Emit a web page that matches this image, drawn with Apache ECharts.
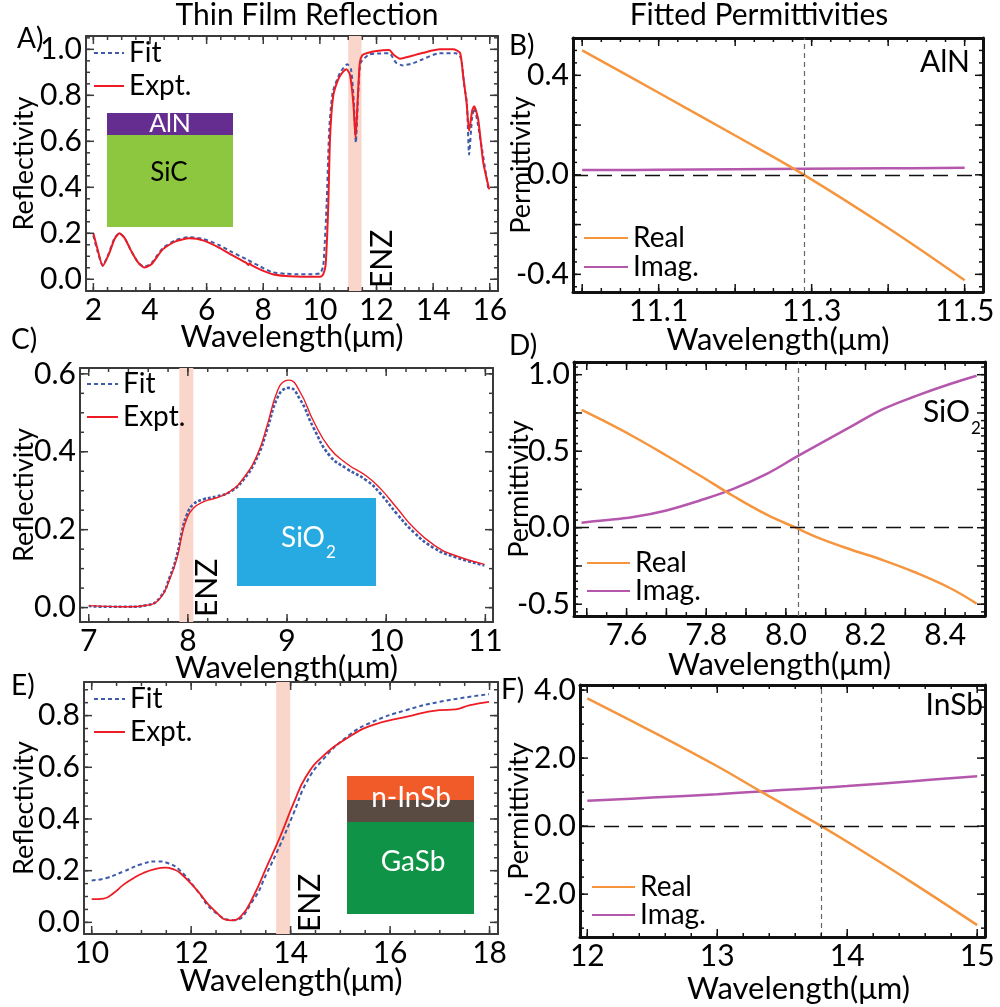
<!DOCTYPE html>
<html lang="en">
<head>
<meta charset="UTF-8">
<title>Thin Film Reflection - Fitted Permittivities</title>
<script src="https://cdn.jsdelivr.net/npm/echarts@6/dist/echarts.min.js"></script>
<style>
    html, body { margin: 0; padding: 0; background: #fff; }
    #chart { width: 1000px; height: 1007px; }
</style>
</head>
<body>
<div id="chart"></div>
<script>
// ---------- A) AlN on SiC reflectivity ----------
const aExptWl = [2.00, 2.15, 2.33, 2.55, 2.75, 2.92, 3.10, 3.35, 3.60, 3.80, 4.05, 4.45, 4.90, 5.39, 5.90, 6.45, 6.90, 7.39, 7.48, 7.52,
    7.60, 7.90, 8.33, 8.80, 9.15, 9.60, 9.94, 10.05, 10.12, 10.20, 10.26, 10.30, 10.36, 10.47, 10.65, 10.80, 10.94, 11.06, 11.18, 11.26,
    11.33, 11.41, 11.50, 11.65, 12.00, 12.45, 12.59, 12.83, 13.20, 13.65, 14.24, 14.71, 14.95, 15.06, 15.18, 15.27, 15.38, 15.45, 15.59, 15.77, 15.98];
const aExpt = [0.200, 0.130, 0.058, 0.110, 0.175, 0.200, 0.180, 0.120, 0.070, 0.051, 0.065, 0.130, 0.165, 0.178, 0.168, 0.137, 0.105, 0.072, 0.062, 0.070,
    0.060, 0.042, 0.022, 0.014, 0.012, 0.011, 0.011, 0.013, 0.022, 0.060, 0.200, 0.337, 0.620, 0.797, 0.870, 0.900, 0.913, 0.891, 0.768, 0.616,
    0.768, 0.942, 0.975, 0.983, 0.993, 0.997, 0.978, 0.959, 0.970, 0.985, 1.000, 1.000, 0.985, 0.884, 0.768, 0.645, 0.735, 0.753, 0.696, 0.507, 0.391];
const aFitWl = [2.00, 2.15, 2.33, 2.55, 2.75, 2.92, 3.10, 3.35, 3.60, 3.80, 4.05, 4.45, 4.90, 5.39, 5.90, 6.45, 6.90, 7.39, 7.90, 8.33,
    8.80, 9.15, 9.60, 10.00, 10.12, 10.24, 10.33, 10.45, 10.71, 10.97, 11.10, 11.20, 11.27, 11.35, 11.44, 11.75, 12.10, 12.45, 12.69, 12.92,
    13.30, 13.63, 14.22, 14.80, 14.98, 15.10, 15.19, 15.27, 15.37, 15.45, 15.63, 15.96];
const aFit = [0.190, 0.120, 0.060, 0.115, 0.180, 0.200, 0.180, 0.120, 0.070, 0.055, 0.070, 0.135, 0.170, 0.183, 0.175, 0.148, 0.118, 0.088, 0.055, 0.030,
    0.024, 0.022, 0.022, 0.026, 0.058, 0.333, 0.652, 0.811, 0.898, 0.935, 0.913, 0.768, 0.594, 0.797, 0.942, 0.978, 0.982, 0.983, 0.942, 0.930,
    0.940, 0.957, 0.983, 0.983, 0.963, 0.840, 0.768, 0.543, 0.696, 0.746, 0.637, 0.384];
const aBand = [11.0, 11.47];

// ---------- B) AlN permittivity ----------
const bWl = [11.0, 11.1, 11.2, 11.29, 11.4, 11.5];
const bReal = [0.500, 0.330, 0.158, 0.000, -0.214, -0.424];
const bImag = [0.019, 0.020, 0.022, 0.024, 0.026, 0.028];
const bEnz = 11.29;

// ---------- C) SiO2 reflectivity ----------
const cWl = [7.00, 7.20, 7.40, 7.585, 7.72, 7.82, 7.89, 7.94, 7.99, 8.055, 8.16, 8.29, 8.43, 8.56, 8.70,
    8.80, 8.90, 8.98, 9.02, 9.13, 9.27, 9.43, 9.60, 9.81, 9.94, 10.11, 10.28, 10.48, 10.68, 10.99];
const cExpt = [0.005, 0.003, 0.002, 0.006, 0.024, 0.075, 0.127, 0.186, 0.229, 0.255, 0.272, 0.282, 0.299, 0.332, 0.392,
    0.468, 0.554, 0.582, 0.584, 0.554, 0.477, 0.409, 0.370, 0.336, 0.306, 0.255, 0.204, 0.161, 0.135, 0.111];
const cFit = [0.004, 0.002, 0.002, 0.006, 0.026, 0.080, 0.135, 0.195, 0.238, 0.265, 0.278, 0.285, 0.298, 0.328, 0.386,
    0.458, 0.537, 0.562, 0.564, 0.535, 0.460, 0.390, 0.357, 0.325, 0.293, 0.240, 0.193, 0.153, 0.131, 0.108];
const cBand = [7.914, 8.055];

// ---------- D) SiO2 permittivity ----------
const dWl = [7.487, 7.533, 7.617, 7.700, 7.784, 7.868, 7.952, 8.025, 8.077, 8.161, 8.245, 8.329, 8.412, 8.479];
const dReal = [0.770, 0.711, 0.596, 0.472, 0.341, 0.207, 0.085, 0.000, -0.061, -0.141, -0.213, -0.296, -0.394, -0.496];
const dImag = [0.033, 0.046, 0.070, 0.113, 0.178, 0.254, 0.352, 0.461, 0.537, 0.657, 0.776, 0.863, 0.939, 0.993];
const dEnz = 8.025;

// ---------- E) n-InSb on GaSb reflectivity ----------
const eExptWl = [10.00, 10.24, 10.45, 10.64, 10.85, 11.04, 11.25, 11.48, 11.65, 11.78, 12.11, 12.45, 12.79, 12.99, 13.25, 13.52, 13.79, 14.06,
    14.31, 14.64, 15.18, 15.65, 16.32, 16.99, 17.32, 17.59, 17.99];
const eExpt = [0.090, 0.092, 0.115, 0.146, 0.172, 0.191, 0.205, 0.212, 0.205, 0.191, 0.126, 0.049, 0.008, 0.021, 0.100, 0.216, 0.332, 0.461,
    0.564, 0.641, 0.718, 0.763, 0.795, 0.821, 0.824, 0.840, 0.853];
const eFitWl = [10.00, 10.30, 10.64, 11.00, 11.31, 11.55, 11.78, 12.11, 12.45, 12.85, 13.25, 13.52, 13.79, 14.06, 14.31, 14.64, 15.18,
    15.65, 16.32, 16.99, 17.99];
const eFit = [0.162, 0.172, 0.197, 0.225, 0.236, 0.228, 0.200, 0.126, 0.044, 0.008, 0.087, 0.190, 0.300, 0.422, 0.538, 0.628, 0.725,
    0.776, 0.821, 0.853, 0.883];
const eBand = [13.71, 13.99];

// ---------- F) InSb permittivity ----------
const fWl = [12.0, 12.5, 13.0, 13.33, 13.5, 13.8, 14.0, 14.5, 15.0];
const fReal = [3.76, 2.78, 1.76, 1.03, 0.66, 0.00, -0.46, -1.66, -2.91];
const fImag = [0.745, 0.840, 0.940, 1.020, 1.060, 1.130, 1.180, 1.320, 1.470];
const fEnz = 13.8;

// tick label values
const aXLabels = [2, 4, 6, 8, 10, 12, 14, 16];
const aYLabels = [0, 0.2, 0.4, 0.6, 0.8, 1.0];
const bXLabels = [11.1, 11.3, 11.5];
const bYLabels = [-0.4, 0, 0.4];
const cXLabels = [7, 8, 9, 10, 11];
const cYLabels = [0, 0.2, 0.4, 0.6];
const dXLabels = [7.6, 7.8, 8.0, 8.2, 8.4];
const dYLabels = [-0.5, 0, 0.5, 1.0];
const eXLabels = [10, 12, 14, 16, 18];
const eYLabels = [0, 0.2, 0.4, 0.6, 0.8];
const fXLabels = [12, 13, 14, 15];
const fYLabels = [-2, 0, 2, 4];

const FONT = 'Lato';
const FS = 28;      // legends, labels
const TS = 30;      // tick labels
const fitColor = '#3d5ba9', exptColor = '#ed1c24', realColor = '#f5963f', imagColor = '#b657ae';
const bandColor = '#fad6ca';

function pairs(xs, ys) {
    return xs.map(function (x, i) { return [x, ys[i]]; });
}
function steps(a, b, s) {
    let out = [];
    for (let k = 0; a + k * s <= b + 1e-9; k++) out.push(+(a + k * s).toFixed(4));
    return out;
}
const fix1 = function (v) { return v.toFixed(1); };
const asInt = function (v) { return String(Math.round(v)); };

let grids = [], xAxes = [], yAxes = [], series = [], legends = [], panels = [];

// one framed panel: the frame is drawn by 4 axis lines
function addPanel(c) {
    const gi = grids.length;
    grids.push({left: c.box[0], top: c.box[1], width: c.box[2], height: c.box[3]});
    const xi = xAxes.length, yi = yAxes.length;
    const base = function (min, max, pos) {
        return {
            type: 'value', gridIndex: gi, min: min, max: max, position: pos,
            axisLine: {show: true, onZero: false, lineStyle: {color: c.frame, width: c.frameWidth}},
            splitLine: {show: false}, axisLabel: {show: false}, axisTick: {show: false}
        };
    };
    let xm = base(c.x[0], c.x[1], 'bottom');
    xm.axisLabel = {show: true, customValues: c.xLabels, formatter: c.xFmt, margin: 4,
        fontFamily: FONT, fontSize: TS, color: '#000'};
    xm.name = 'Wavelength(μm)';
    xm.nameLocation = 'middle';
    xm.nameGap = c.xNameGap;
    xm.nameMoveOverlap = false;
    xm.nameTextStyle = {fontFamily: FONT, fontSize: 31, color: '#000', padding: c.xNamePad || 0};
    xAxes.push(xm);
    xAxes.push(base(c.x[0], c.x[1], 'top'));

    let ym = base(c.y[0], c.y[1], 'left');
    ym.axisLabel = {show: true, customValues: c.yLabels, formatter: fix1, margin: 4,
        fontFamily: FONT, fontSize: TS, color: '#000'};
    ym.name = c.yName;
    ym.nameLocation = 'middle';
    ym.nameGap = c.yNameGap;
    ym.nameMoveOverlap = false;
    ym.nameTextStyle = {fontFamily: FONT, fontSize: 27, color: '#000'};
    yAxes.push(ym);
    yAxes.push(base(c.y[0], c.y[1], 'right'));

    legends.push({
        left: c.legend[0], top: c.legend[1], orient: 'vertical', padding: 0,
        itemWidth: c.legend[2], itemHeight: 14, itemGap: c.legend[3], selectedMode: false,
        itemStyle: {opacity: 0},
        data: c.legendNames,
        textStyle: {fontFamily: FONT, fontSize: FS, color: '#000', lineHeight: 28}
    });
    const ax = {xAxisIndex: xi, yAxisIndex: yi};
    panels.push({cfg: c, ax: ax, gi: gi});
    return ax;
}

function bandSeries(ax, band) {
    return Object.assign({
        type: 'line', data: [], z: 1, silent: true,
        markArea: {silent: true, itemStyle: {color: bandColor}, data: [[{xAxis: band[0]}, {xAxis: band[1]}]]}
    }, ax);
}
function reflSeries(ax, fitData, exptData, fitStyle, exptStyle, smooth) {
    return [
        Object.assign({type: 'line', name: 'Fit', data: fitData, symbol: 'none', smooth: smooth,
            z: 3, lineStyle: Object.assign({color: fitColor}, fitStyle), itemStyle: {color: fitColor}}, ax),
        Object.assign({type: 'line', name: 'Expt.', data: exptData, symbol: 'none', smooth: smooth,
            z: 4, lineStyle: Object.assign({color: exptColor}, exptStyle), itemStyle: {color: exptColor}}, ax)
    ];
}
function permSeries(ax, realData, imagData, enz) {
    return [
        Object.assign({type: 'line', name: 'Real', data: realData, symbol: 'none', smooth: 0.4, z: 4,
            lineStyle: {color: realColor, width: 2.5}, itemStyle: {color: realColor},
            markLine: {silent: true, symbol: ['none', 'none'], label: {show: false}, animation: false,
                data: [
                    {yAxis: 0, lineStyle: {color: '#111', width: 1.4, type: [15, 9]}},
                    {xAxis: enz, lineStyle: {color: '#666', width: 1.2, type: [5, 4]}}
                ]}}, ax),
        Object.assign({type: 'line', name: 'Imag.', data: imagData, symbol: 'none', smooth: 0.4, z: 3,
            lineStyle: {color: imagColor, width: 2.5}, itemStyle: {color: imagColor}}, ax)
    ];
}

// ----- panels -----
const axA = addPanel({
    box: [86, 36, 412, 255], x: [1.74, 16.29], y: [-0.051, 1.058], frame: '#3a3a3a', frameWidth: 2,
    xLabels: aXLabels, xMajor: aXLabels, xMinor: steps(2, 16, 0.5), xFmt: asInt, xNameGap: 30,
    yLabels: aYLabels, yMajor: aYLabels, yMinor: steps(0, 1.05, 0.05), yName: 'Reflectivity', yNameGap: 48,
    legend: [93, 39, 30, 5], legendNames: ['Fit', 'Expt.']
});
const axB = addPanel({
    box: [573, 38, 410, 254], x: [10.988, 11.524], y: [-0.471, 0.55], frame: '#111', frameWidth: 3,
    xLabels: bXLabels, xMajor: steps(11.0, 11.5, 0.1), xMinor: steps(11.0, 11.5, 0.025), xFmt: fix1, xNameGap: 32,
    yLabels: bYLabels, yMajor: steps(-0.4, 0.4, 0.2), yMinor: steps(-0.45, 0.55, 0.05), yName: 'Permittivity', yNameGap: 38,
    legend: [583, 224, 44, 1], legendNames: ['Real', 'Imag.']
});
const axC = addPanel({
    box: [80, 368, 413, 254], x: [6.912, 11.077], y: [-0.037, 0.615], frame: '#3a3a3a', frameWidth: 2,
    xLabels: cXLabels, xMajor: cXLabels, xMinor: steps(7, 11, 0.2), xFmt: asInt, xNameGap: 30,
    yLabels: cYLabels, yMajor: cYLabels, yMinor: steps(0, 0.6, 0.05), yName: 'Reflectivity', yNameGap: 42,
    legend: [86, 370, 31, 5], legendNames: ['Fit', 'Expt.']
});
const axD = addPanel({
    box: [574, 362, 411, 254], x: [7.468, 8.50], y: [-0.577, 1.083], frame: '#111', frameWidth: 3,
    xLabels: dXLabels, xMajor: steps(7.5, 8.5, 0.1), xMinor: steps(7.5, 8.5, 0.05), xFmt: fix1, xNameGap: 33,
    yLabels: dYLabels, yMajor: steps(-0.5, 1.0, 0.25), yMinor: steps(-0.55, 1.05, 0.05), yName: 'Permittivity', yNameGap: 41,
    legend: [586, 549, 43, 0], legendNames: ['Real', 'Imag.']
});
const axE = addPanel({
    box: [84, 682, 414, 252], x: [9.845, 18.17], y: [-0.045, 0.93], frame: '#3a3a3a', frameWidth: 2,
    xLabels: eXLabels, xMajor: eXLabels, xMinor: steps(10, 18, 0.5), xFmt: asInt, xNameGap: 31,
    yLabels: eYLabels, yMajor: eYLabels, yMinor: steps(0, 0.9, 0.05), yName: 'Reflectivity', yNameGap: 46,
    legend: [93, 685, 31, 5], legendNames: ['Fit', 'Expt.']
});
const axF = addPanel({
    box: [580, 685, 405, 252], x: [11.944, 15.06], y: [-3.26, 4.15], frame: '#111', frameWidth: 3,
    xLabels: fXLabels, xMajor: fXLabels, xMinor: steps(12, 15, 0.2), xFmt: asInt, xNameGap: 36, xNamePad: [0, 0, 0, 32],
    yLabels: fYLabels, yMajor: fYLabels, yMinor: steps(-3, 4, 0.5), yName: 'Permittivity', yNameGap: 47,
    legend: [591, 873, 43, 0], legendNames: ['Real', 'Imag.']
});

series.push(bandSeries(axA, aBand));
series.push.apply(series, reflSeries(axA, pairs(aFitWl, aFit), pairs(aExptWl, aExpt),
    {width: 2, type: [4, 3]}, {width: 2}, 0.2));
series.push.apply(series, permSeries(axB, pairs(bWl, bReal), pairs(bWl, bImag), bEnz));
series.push(bandSeries(axC, cBand));
series.push.apply(series, reflSeries(axC, pairs(cWl, cFit), pairs(cWl, cExpt),
    {width: 2.6, type: [3, 2]}, {width: 1.4}, 0.5));
series.push.apply(series, permSeries(axD, pairs(dWl, dReal), pairs(dWl, dImag), dEnz));
series.push(bandSeries(axE, eBand));
series.push.apply(series, reflSeries(axE, pairs(eFitWl, eFit), pairs(eExptWl, eExpt),
    {width: 2, type: [4, 3]}, {width: 1.8}, 0.5));
series.push.apply(series, permSeries(axF, pairs(fWl, fReal), pairs(fWl, fImag), fEnz));

// ----- annotations, insets -----
function label(text, x, y, opts) {
    opts = opts || {};
    return {
        type: 'text', x: x, y: y, z: 20, rotation: opts.rotation || 0,
        style: {text: text, fontFamily: FONT, fontSize: opts.size || FS, fill: opts.color || '#000',
            textAlign: opts.align || 'left', textVerticalAlign: 'middle'}
    };
}
function box(x, y, w, h, color) {
    return {type: 'rect', z: 10, shape: {x: x, y: y, width: w, height: h}, style: {fill: color}};
}

let graphics = [
    label('Thin Film Reflection', 307, 15, {align: 'center', size: 30}),
    label('Fitted Permittivities', 759, 15, {align: 'center', size: 30}),
    label('A)', 17, 39), label('B)', 509, 46), label('C)', 11, 340),
    label('D)', 509, 346), label('E)', 11, 686), label('F)', 501, 690),
    // ENZ tags, read bottom to top
    label('ENZ', 382, 288, {rotation: Math.PI / 2, size: 30}),
    label('ENZ', 207, 617, {rotation: Math.PI / 2, size: 30}),
    label('ENZ', 310, 932, {rotation: Math.PI / 2, size: 30}),
    // material names in permittivity panels
    label('AlN', 970, 62, {align: 'right', size: 30}),
    label('SiO', 970, 412, {align: 'right', size: 30}),
    label('2', 971, 429, {size: 17}),
    label('InSb', 983, 705, {align: 'right', size: 30}),
    // A inset
    box(107, 113, 126, 22, '#662d91'),
    box(107, 135, 126, 92, '#8dc63f'),
    label('AlN', 170, 124, {align: 'center', size: 25, color: '#fff'}),
    label('SiC', 169, 173, {align: 'center', size: 26}),
    // C inset
    box(237, 498, 139, 88, '#27aae1'),
    label('SiO', 325, 538, {align: 'right', color: '#fff'}),
    label('2', 326, 553, {size: 17, color: '#fff'}),
    // E inset
    box(347, 776, 127, 24, '#f15a29'),
    box(347, 800, 127, 22, '#594a42'),
    box(347, 822, 127, 92, '#0f9447'),
    label('n-InSb', 411, 798, {align: 'center', size: 28, color: '#fff'}),
    label('GaSb', 413, 862, {align: 'center', size: 28, color: '#fff'})
];

let myChart = echarts.init(document.getElementById('chart'));
myChart.setOption({
    animation: false,
    backgroundColor: '#fff',
    grid: grids,
    xAxis: xAxes,
    yAxis: yAxes,
    legend: legends,
    series: series,
    graphic: graphics
});

// inward frame ticks on all four sides, placed with the panels' own scales
panels.forEach(function (p) {
    const c = p.cfg;
    let si = -1;
    series.forEach(function (s, k) {
        if (si < 0 && s.xAxisIndex === p.ax.xAxisIndex && s.data.length) si = k;
    });
    const toPixel = function (pt) {
        let px = null;
        try { px = myChart.convertToPixel({seriesIndex: si}, pt); } catch (e) { px = null; }
        if (!px || isNaN(px[0]) || isNaN(px[1])) {
            try { px = myChart.convertToPixel({gridIndex: p.gi}, pt); } catch (e) { px = null; }
        }
        return px;
    };
    const addTick = function (pt, dx, dy, len) {
        const px = toPixel(pt);
        if (!px || isNaN(px[0]) || isNaN(px[1])) return;
        graphics.push({
            type: 'line', z: 15, silent: true,
            shape: {x1: px[0], y1: px[1], x2: px[0] + dx * len, y2: px[1] + dy * len},
            style: {stroke: c.frame, lineWidth: 1.5}
        });
    };
    c.xMajor.forEach(function (v) { addTick([v, c.y[0]], 0, -1, 8); addTick([v, c.y[1]], 0, 1, 8); });
    c.xMinor.forEach(function (v) { addTick([v, c.y[0]], 0, -1, 4); addTick([v, c.y[1]], 0, 1, 4); });
    c.yMajor.forEach(function (v) { addTick([c.x[0], v], 1, 0, 8); addTick([c.x[1], v], -1, 0, 8); });
    c.yMinor.forEach(function (v) { addTick([c.x[0], v], 1, 0, 4); addTick([c.x[1], v], -1, 0, 4); });
});
myChart.setOption({graphic: graphics});
</script>
</body>
</html>
